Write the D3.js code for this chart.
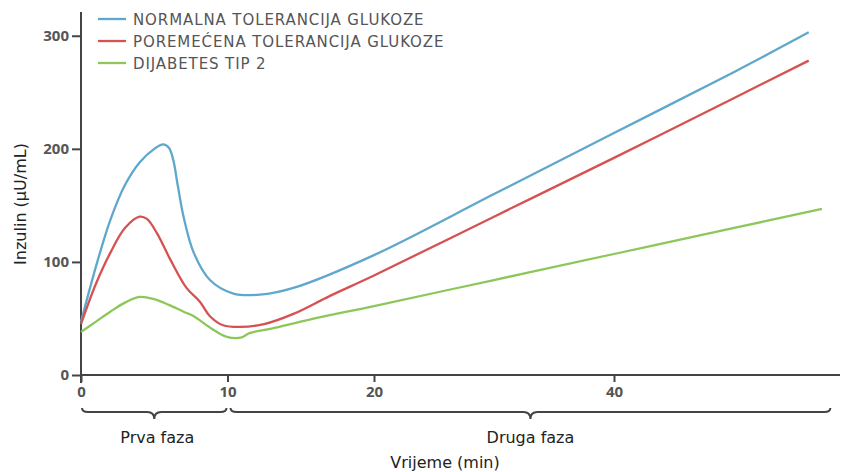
<!DOCTYPE html>
<html>
<head>
<meta charset="utf-8">
<script src="https://cdn.jsdelivr.net/npm/d3@7"></script>
<style>
  body { margin: 0; background: #fff; }
  svg text { font-family: "DejaVu Sans", sans-serif; }
  .tick-label { font-family: "Open Sans", sans-serif; font-weight: 700; font-size: 15px; fill: #555; }
  .legend-label { font-size: 15px; fill: #555; letter-spacing: 0.9px; }
  .axis-title { font-size: 16px; fill: #222; }
</style>
</head>
<body>
<svg width="846" height="472"></svg>
<script>
// Insulin response data (minutes, µU/mL)
const normalTime = [0, 1, 2, 3, 4, 5, 5.6, 6.0, 6.3, 6.6, 7, 7.7, 8.8, 10.4, 12.2, 14.5, 20, 30, 40, 50, 56.2];
const normalValues = [47, 95, 137, 168, 188, 200, 204, 201, 190, 168, 140, 108, 84, 72, 71, 77, 106, 160, 214, 268, 303];

const impairedTime = [0, 1, 2, 3, 4, 4.5, 5.2, 6.1, 7.2, 8.1, 8.8, 9.7, 10.9, 12.5, 14.5, 17, 20, 30, 40, 50, 56.2];
const impairedValues = [45, 80, 108, 130, 140, 138, 125, 102, 77, 65, 52, 44, 42.5, 45, 54, 70, 88, 140, 192, 245, 278];

const diabetesTime = [0, 1, 2, 3, 4, 5, 6, 7, 7.7, 8.8, 9.9, 10.9, 11.5, 13, 15.6, 20, 30, 40, 50, 57.3];
const diabetesValues = [38, 47, 56, 64, 69, 67, 62, 56, 52, 42, 34, 33, 37, 41, 49, 61, 84, 107, 130, 147];

const seriesNames = ["NORMALNA TOLERANCIJA GLUKOZE", "POREMEĆENA TOLERANCIJA GLUKOZE", "DIJABETES TIP 2"];
const seriesColors = ["#5fa7cb", "#d65252", "#8dc75a"];

const xTicks = [0, 10, 20, 40];
const yTicks = [0, 100, 200, 300];

// phase braces: [start, end] in minutes
const phaseNames = ["Prva faza", "Druga faza"];
const phaseRanges = [[0, 10], [10, 58]];

const series = [
  normalTime.map((t, i) => ({ t, v: normalValues[i] })),
  impairedTime.map((t, i) => ({ t, v: impairedValues[i] })),
  diabetesTime.map((t, i) => ({ t, v: diabetesValues[i] })),
];

const svg = d3.select("svg");

// the original time axis is stretched before 20 min
const x = d3.scaleLinear().domain([0, 20, 40, 58.8]).range([81, 374, 614, 840]);
const y = d3.scaleLinear().domain([0, 321]).range([375, 12]);

// y axis
const yAxis = svg.append("g")
  .attr("transform", "translate(81,0)")
  .call(d3.axisLeft(y).tickValues(yTicks).tickSize(9).tickPadding(3));
yAxis.select(".domain").remove();
yAxis.selectAll(".tick line").attr("stroke", "#444").attr("stroke-width", 2);
yAxis.selectAll(".tick text").attr("class", "tick-label").attr("font-size", null).attr("font-family", null);
svg.append("line")
  .attr("x1", 81).attr("x2", 81)
  .attr("y1", y.range()[1]).attr("y2", y(0) + 8)
  .attr("stroke", "#444").attr("stroke-width", 2);

// x axis
const xAxis = svg.append("g")
  .attr("transform", `translate(0,${y(0)})`)
  .call(d3.axisBottom(x).tickValues(xTicks).tickSize(7).tickPadding(4));
xAxis.select(".domain").remove();
xAxis.selectAll(".tick line").attr("stroke", "#444").attr("stroke-width", 2);
xAxis.selectAll(".tick text").attr("class", "tick-label").attr("font-size", null).attr("font-family", null);
svg.append("line")
  .attr("x1", 81).attr("x2", x.range()[3])
  .attr("y1", y(0)).attr("y2", y(0))
  .attr("stroke", "#444").attr("stroke-width", 2);

// curves
const line = d3.line()
  .x((d) => x(d.t))
  .y((d) => y(d.v))
  .curve(d3.curveCatmullRom.alpha(0.5));

svg.selectAll("path.series")
  .data(series)
  .enter()
  .append("path")
  .attr("class", "series")
  .attr("fill", "none")
  .attr("stroke", (d, i) => seriesColors[i])
  .attr("stroke-width", 2.3)
  .attr("stroke-linejoin", "round")
  .attr("d", line);

// legend
const legend = svg.selectAll("g.legend")
  .data(seriesNames)
  .enter()
  .append("g")
  .attr("class", "legend")
  .attr("transform", (d, i) => `translate(98, ${19 + i * 22})`);

legend.append("line")
  .attr("x1", 0).attr("x2", 28)
  .attr("stroke", (d, i) => seriesColors[i])
  .attr("stroke-width", 2.3);

legend.append("text")
  .attr("class", "legend-label")
  .attr("x", 35)
  .attr("y", 5.5)
  .text((d) => d);

// phase braces
function bracePath(x0, x1) {
  const xm = (x0 + x1) / 2;
  const top = 408, mid = 412, tip = 419;
  return `M${x0},${top} Q${x0},${mid} ${x0 + 6},${mid} L${xm - 7},${mid} Q${xm},${mid} ${xm},${tip}`
    + ` Q${xm},${mid} ${xm + 7},${mid} L${x1 - 6},${mid} Q${x1},${mid} ${x1},${top}`;
}

phaseRanges.forEach((r, i) => {
  const x0 = x(r[0]) + (i === 0 ? 1 : 3);
  const x1 = x(r[1]) - (i === 0 ? 1 : 0);
  svg.append("path")
    .attr("d", bracePath(x0, x1))
    .attr("fill", "none")
    .attr("stroke", "#444")
    .attr("stroke-width", 2);
  svg.append("text")
    .attr("class", "axis-title")
    .attr("x", (x0 + x1) / 2 + (i === 0 ? 3 : 0))
    .attr("y", 443)
    .attr("text-anchor", "middle")
    .text(phaseNames[i]);
});

// axis titles
svg.append("text")
  .attr("class", "axis-title")
  .attr("x", 445)
  .attr("y", 468)
  .attr("text-anchor", "middle")
  .text("Vrijeme (min)");

svg.append("text")
  .attr("class", "axis-title")
  .attr("transform", "translate(26,204) rotate(-90)")
  .attr("text-anchor", "middle")
  .text("Inzulin (µU/mL)");
</script>
</body>
</html>
